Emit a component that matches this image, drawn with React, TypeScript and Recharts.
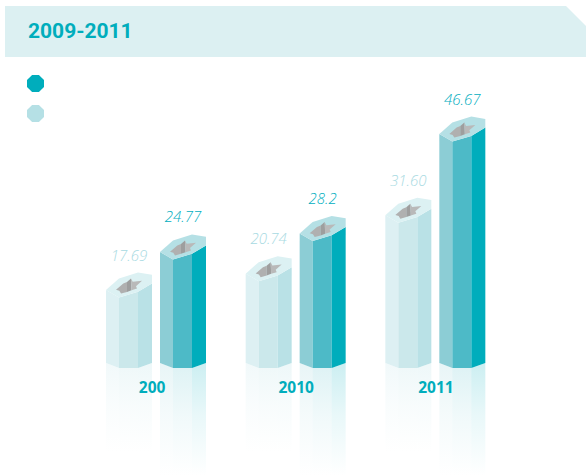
import { BarChart, Bar, XAxis, YAxis, LabelList, Legend } from 'recharts'

const years = ['200', '2010', '2011']
const earlier = [17.69, 20.74, 31.6]
const later = [24.77, 28.2, 46.67]
// printed labels keep the picture's own decimals (28.2 vs 31.60)
const earlierLabels = ['17.69', '20.74', '31.60']
const laterLabels = ['24.77', '28.2', '46.67']

const data = years.map((year, i) => ({
  year,
  earlier: earlier[i],
  later: later[i],
  earlierLabel: earlierLabels[i],
  laterLabel: laterLabels[i],
}))

const lightFaces = { left: '#DDF0F3', mid: '#CBE8EB', right: '#B9E1E6', cap: '#DCF1F3', id: 'l' }
const darkFaces = { left: '#8CCDD5', mid: '#4DBAC7', right: '#00ADBC', cap: '#B5E0E5', id: 'd' }

const pts = (list: number[][]) => list.map((p) => p.join(',')).join(' ')

function prismShape(c: typeof darkFaces, mirror: number) {
  return (props: any) => {
    const { x, y, width, height } = props
    const base = y + height
    const a = x + 13
    const b = x + 32
    const r = x + width
    return (
      <g>
        {/* reflection under the bar */}
        <polygon fill={`url(#${c.id}Left)`} points={pts([[x, base - 5], [a, base], [a, base + mirror], [x, base + mirror]])} />
        <polygon fill={`url(#${c.id}Mid)`} points={pts([[a, base], [b, base], [b, base + mirror], [a, base + mirror]])} />
        <polygon fill={`url(#${c.id}Right)`} points={pts([[b, base], [r, base - 5], [r, base + mirror], [b, base + mirror]])} />

        <polygon fill={c.left} points={pts([[x, y - 7.5], [a, y], [a, base], [x, base - 5]])} />
        <polygon fill={c.mid} points={pts([[a, y], [b, y - 5.7], [b, base], [a, base]])} />
        <polygon fill={c.right} points={pts([[b, y - 5.7], [r, y - 14], [r, base - 5], [b, base]])} />
        <polygon
          fill={c.cap}
          points={pts([[x, y - 7.5], [a, y], [b, y - 5.7], [r, y - 14], [r, y - 22.7], [b, y - 25], [a, y - 19]])}
        />
        {/* grey hole in the cap */}
        <polygon
          fill="#B0B0B0"
          points={pts([[x + 10, y - 7.7], [x + 17.3, y - 14], [x + 21, y - 15.5], [x + 21, y - 5.6], [x + 15, y - 4], [x + 13.3, y - 6.7]])}
        />
        <polygon fill="#9E9E9E" points={pts([[x + 21, y - 15.5], [x + 25, y - 19], [x + 25.5, y - 7.3], [x + 21, y - 5.6]])} />
        <polygon
          fill="#B9B9B9"
          points={pts([[x + 25, y - 19], [x + 26.7, y - 15.7], [x + 36, y - 16.7], [x + 30, y - 11.4], [x + 31, y - 9], [x + 25.5, y - 7.3]])}
        />
      </g>
    )
  }
}

const YearTick = ({ x, y, payload }: any) => (
  <text x={x - 17} y={y + 17} textAnchor="start" fill="#00ADBC" fontSize={15.5} fontWeight={700} fontFamily="'Open Sans'">
    {payload.value}
  </text>
)

const SwatchLegend = ({ payload }: any) => (
  <div>
    {[...(payload ?? [])].reverse().map((entry: any) => (
      <div
        key={entry.value}
        style={{
          width: 17,
          height: 17,
          marginBottom: 13,
          background: entry.color,
          clipPath: 'polygon(30% 0, 70% 0, 100% 30%, 100% 70%, 70% 100%, 30% 100%, 0 70%, 0 30%)',
        }}
      />
    ))}
  </div>
)

function Fade({ id, color, from }: { id: string; color: string; from: number }) {
  return (
    <linearGradient id={id} x1="0" y1="0" x2="0" y2="1">
      <stop offset="0%" stopColor={color} stopOpacity={from} />
      <stop offset="45%" stopColor={color} stopOpacity={from * 0.45} />
      <stop offset="100%" stopColor={color} stopOpacity={0} />
    </linearGradient>
  )
}

const labelStyle = { fontFamily: "'Open Sans'", fontStyle: 'italic', fontWeight: 300, fontSize: 15 }

export default function App() {
  return (
    <div style={{ position: 'absolute', left: 0, top: 0, width: 588, height: 476, background: '#fff', overflow: 'hidden' }}>
      <div
        style={{
          position: 'absolute', left: 5, top: 6, width: 581, height: 51,
          background: '#DCF0F2',
          clipPath: 'polygon(0 0, 561px 0, 581px 20px, 581px 51px, 0 51px)',
          color: '#00ADBC', fontFamily: 'Roboto', fontWeight: 700, fontSize: 21,
          lineHeight: '51px', paddingLeft: 23, boxSizing: 'border-box',
        }}
      >
        2009-2011
      </div>
      <BarChart
        width={588}
        height={476}
        data={data}
        barSize={46}
        barGap={8}
        margin={{ top: 100, right: 83, bottom: 0, left: 86 }}
        style={{ position: 'absolute', left: 0, top: 0 }}
      >
        <defs>
          <Fade id="lLeft" color="#DDF0F3" from={0.4} />
          <Fade id="lMid" color="#CBE8EB" from={0.3} />
          <Fade id="lRight" color="#B9E1E6" from={0.25} />
          <Fade id="dLeft" color="#8CCDD5" from={0.2} />
          <Fade id="dMid" color="#4DBAC7" from={0.18} />
          <Fade id="dRight" color="#00ADBC" from={0.2} />
        </defs>
        <YAxis hide domain={[4.6, 54.4]} />
        <Legend
          layout="horizontal"
          verticalAlign="middle"
          content={<SwatchLegend />}
          wrapperStyle={{ left: 27, top: 75, width: 20 }}
        />
        <Bar dataKey="earlier" fill="#B5E0E5" isAnimationActive={false} shape={prismShape(lightFaces, 85)}>
          <LabelList dataKey="earlierLabel" position="top" offset={37} fill="#A8DAE2" style={labelStyle} />
        </Bar>
        <Bar dataKey="later" fill="#00ADBC" isAnimationActive={false} shape={prismShape(darkFaces, 108)}>
          <LabelList dataKey="laterLabel" position="top" offset={37} fill="#00AEC0" style={labelStyle} />
        </Bar>
        <XAxis dataKey="year" height={108} axisLine={false} tickLine={false} tick={<YearTick />} interval={0} />
      </BarChart>
    </div>
  )
}
